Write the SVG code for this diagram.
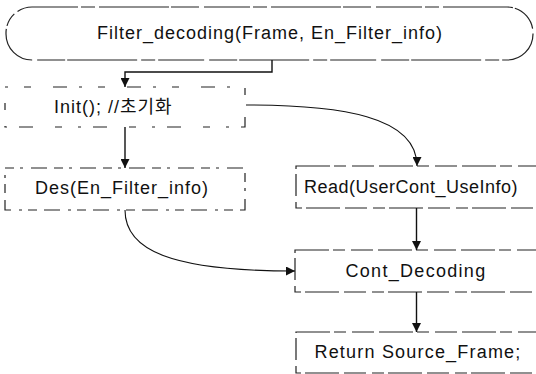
<svg xmlns="http://www.w3.org/2000/svg" width="536" height="374" viewBox="0 0 536 374">
  <style>
    .box { fill: none; stroke: #222; stroke-width: 1.2; }
    .pill { stroke-dasharray: 46 3 14 4 70 2 28 5; }
    .sparse { stroke-dasharray: 3 16 7 22 14 12; }
    .dash { stroke-dasharray: 9 6 3 8 16 7; }
    .semi { stroke-dasharray: 34 4 12 6 22 5; }
    .label { font-family: "Liberation Sans", Arial, sans-serif; font-size: 18px; letter-spacing: 1px; fill: #111; }
    .wire { fill: none; stroke: #111; stroke-width: 1.4; }
    .curve { fill: none; stroke: #111; stroke-width: 1.1; }
  </style>
  <defs>
    <marker id="arrow" viewBox="0 0 9 9" refX="9" refY="4.5" markerWidth="9" markerHeight="9" markerUnits="userSpaceOnUse" orient="auto">
      <path d="M0,0 L9,4.5 L0,9 z" fill="#111"/>
    </marker>
  </defs>
  <rect width="536" height="374" fill="#fff"/>

  <g id="node-filter-decoding">
    <rect class="box pill" x="6" y="7" width="527" height="53" rx="26" ry="26"/>
    <text class="label" x="270" y="39" text-anchor="middle">Filter_decoding(Frame, En_Filter_info)</text>
  </g>

  <g id="node-init">
    <rect class="box sparse" x="5" y="87" width="240" height="40"/>
    <text class="label" x="54" y="113" style="font-family:'Liberation Sans','Noto Sans CJK KR',sans-serif">Init(); //초기화</text>
  </g>

  <g id="node-des">
    <rect class="box dash" x="5" y="168" width="240" height="42"/>
    <text class="label" x="122" y="194" text-anchor="middle">Des(En_Filter_info)</text>
  </g>

  <g id="node-read">
    <rect class="box semi" x="296" y="166" width="250" height="42"/>
    <text class="label" x="411" y="193" text-anchor="middle" style="letter-spacing:0.5px">Read(UserCont_UseInfo)</text>
  </g>

  <g id="node-cont-decoding">
    <rect class="box semi" x="295" y="250" width="250" height="42"/>
    <text class="label" x="416" y="277" text-anchor="middle" style="letter-spacing:1.3px">Cont_Decoding</text>
  </g>

  <g id="node-return">
    <rect class="box semi" x="296" y="332" width="250" height="41"/>
    <text class="label" x="418" y="358" text-anchor="middle" style="letter-spacing:1.2px">Return Source_Frame;</text>
  </g>

  <g id="connectors">
    <path class="wire" d="M272,60 V72 H125 V87" marker-end="url(#arrow)"/>
    <path class="wire" d="M125,127 V168" marker-end="url(#arrow)"/>
    <path class="curve" d="M246,105 C340,105 417,116 417,166" marker-end="url(#arrow)"/>
    <path class="wire" d="M416.5,208 V250" marker-end="url(#arrow)"/>
    <path class="curve" d="M125,210 C125,250 170,271 295,271" marker-end="url(#arrow)"/>
    <path class="wire" d="M416.5,292 V332" marker-end="url(#arrow)"/>
  </g>
</svg>
